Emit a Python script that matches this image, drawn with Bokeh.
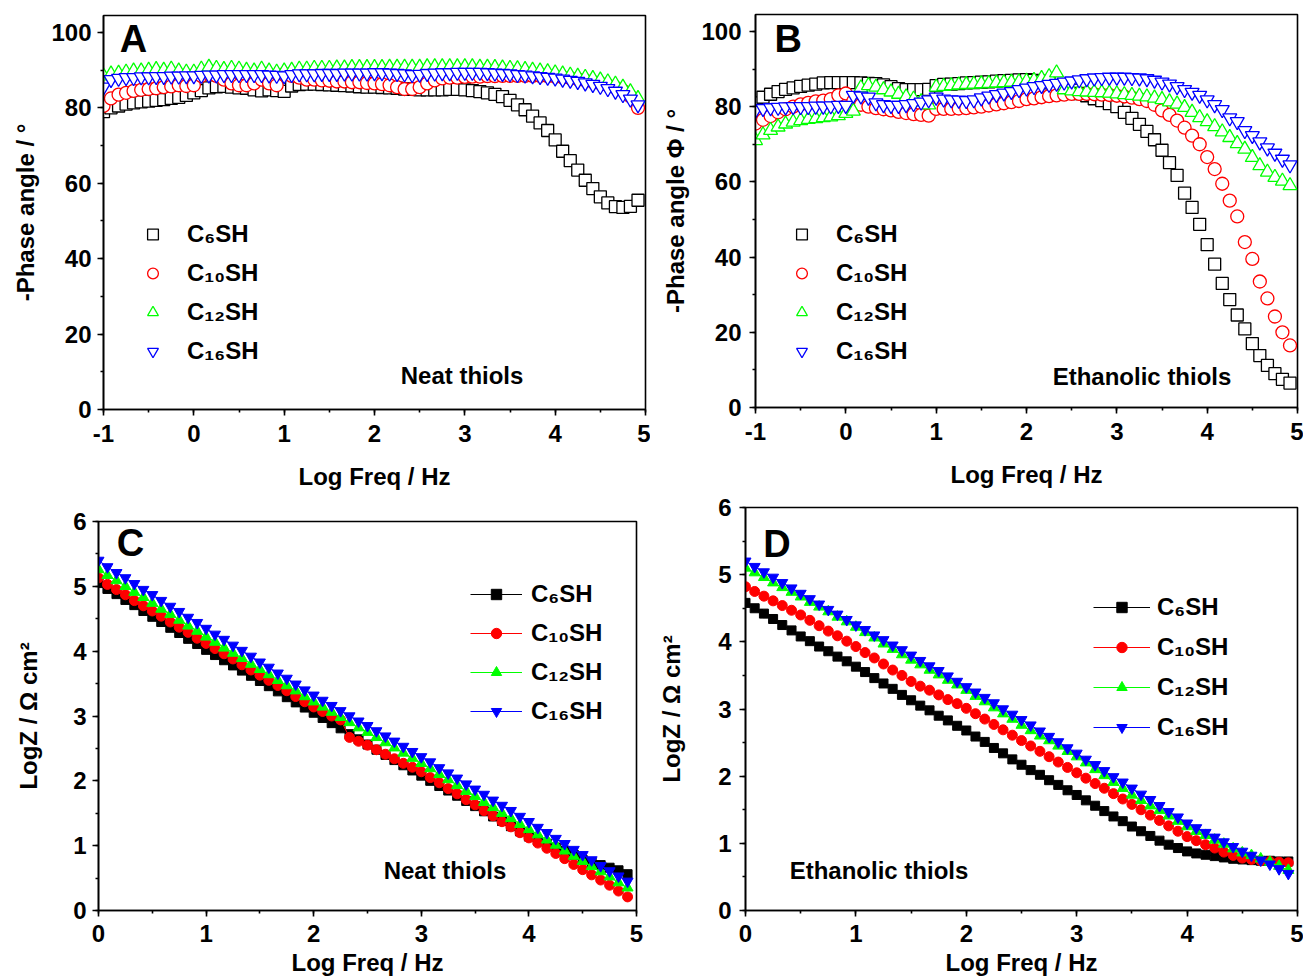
from bokeh.plotting import figure
from bokeh.layouts import column, row
from bokeh.models import Range1d, SingleIntervalTicker, Legend, LegendItem, Label
from bokeh.embed import file_html
from bokeh.resources import INLINE

FONT = "Liberation Sans"

# ---------------- data ----------------
SERIES = ["C\u2086SH", "C\u2081\u2080SH", "C\u2081\u2082SH", "C\u2081\u2086SH"]
COLORS = ["#000000", "#FF0000", "#00FF00", "#0000FF"]

LOGF_PHASE = [
    -1.0, -0.917, -0.833, -0.75, -0.667, -0.583, -0.5, -0.417, -0.333, -0.25, -0.167, -0.083,
    0.0, 0.083, 0.167, 0.25, 0.333, 0.417, 0.5, 0.583, 0.667, 0.75, 0.833, 0.917,
    1.0, 1.083, 1.167, 1.25, 1.333, 1.417, 1.5, 1.583, 1.667, 1.75, 1.833, 1.917,
    2.0, 2.083, 2.167, 2.25, 2.333, 2.417, 2.5, 2.583, 2.667, 2.75, 2.833, 2.917,
    3.0, 3.083, 3.167, 3.25, 3.333, 3.417, 3.5, 3.583, 3.667, 3.75, 3.833, 3.917,
    4.0, 4.083, 4.167, 4.25, 4.333, 4.417, 4.5, 4.583, 4.667, 4.75, 4.833, 4.917,
]
LOGF_MOD = LOGF_PHASE[12:]

# Panel A: neat thiols, -phase angle (deg)
PH_NEAT_C6 = [
    79.0, 80.0, 80.5, 81.0, 81.3, 81.6, 81.8, 82.0, 82.2, 82.5, 82.8, 83.3,
    84.0, 84.6, 85.3, 85.6, 85.7, 85.5, 85.3, 85.2, 84.8, 84.5, 84.8, 84.6,
    84.4, 85.8, 86.2, 86.3, 86.3, 86.2, 86.1, 86.0, 85.9, 85.8, 85.6, 85.5,
    85.5, 85.4, 85.3, 85.2, 85.0, 84.9, 84.8, 84.8, 84.8, 84.8, 84.9, 84.9,
    84.8, 84.6, 84.3, 84.0, 83.6, 83.0, 82.0, 80.8, 79.5, 77.8, 76.0, 74.0,
    71.5, 68.5, 66.0, 63.5, 60.8, 58.6, 56.4, 54.8, 53.8, 53.6, 53.9, 55.5,
]
PH_NEAT_C10 = [
    80.5, 82.5, 83.5, 84.0, 84.5, 84.8, 85.0, 85.2, 85.5, 85.7, 86.0, 85.8,
    86.0, 88.5, 89.0, 88.5, 87.5, 86.5, 86.0, 86.0, 86.5, 87.5, 86.5, 86.0,
    89.0, 88.5, 88.0, 87.5, 87.5, 87.3, 87.2, 87.0, 87.0, 86.8, 86.8, 86.6,
    86.5, 86.3, 86.0, 85.5, 85.0, 85.0, 85.5, 86.5, 87.3, 87.8, 88.0, 88.0,
    88.2, 88.3, 88.3, 88.4, 88.4, 88.5, 88.5, 88.5, 88.5, 88.5, 88.5, 88.4,
    88.3, 88.1, 87.9, 87.6, 87.3, 86.9, 86.5, 86.0, 85.4, 84.6, 83.0, 80.0,
]
PH_NEAT_C12 = [
    88.5, 89.0, 89.2, 89.5, 89.8, 89.8, 90.0, 90.2, 90.0, 90.3, 89.8, 89.5,
    89.5, 90.3, 90.8, 90.5, 90.2, 90.5, 90.3, 90.0, 89.8, 90.3, 89.8, 89.5,
    89.8, 90.0, 90.3, 90.3, 90.5, 90.5, 90.5, 90.6, 90.6, 90.7, 90.7, 90.7,
    90.7, 90.7, 90.8, 90.8, 90.8, 90.8, 90.8, 90.9, 90.9, 90.9, 90.9, 90.9,
    90.9, 90.9, 90.8, 90.8, 90.7, 90.6, 90.5, 90.4, 90.2, 90.0, 89.8, 89.6,
    89.3, 89.0, 88.7, 88.4, 88.1, 87.8, 87.4, 86.9, 86.3, 85.5, 84.3, 82.5,
]
PH_NEAT_C16 = [
    85.5, 87.5, 87.8, 88.0, 88.0, 88.2, 88.2, 88.3, 88.3, 88.4, 88.4, 88.5,
    88.5, 88.6, 88.7, 88.7, 88.8, 88.8, 88.8, 88.8, 88.8, 88.8, 88.7, 88.6,
    88.5, 88.8, 89.0, 89.0, 89.0, 89.1, 89.1, 89.1, 89.2, 89.2, 89.2, 89.2,
    89.3, 89.3, 89.2, 89.1, 89.0, 88.8, 88.9, 89.1, 89.2, 89.3, 89.3, 89.4,
    89.4, 89.4, 89.4, 89.3, 89.2, 89.1, 89.0, 88.8, 88.7, 88.5, 88.3, 88.1,
    87.9, 87.6, 87.3, 87.0, 86.6, 86.2, 85.7, 85.1, 84.4, 83.5, 82.3, 80.8,
]

# Panel B: ethanolic thiols, -phase angle (deg)
PH_ETH_C6 = [
    81.0, 82.5, 83.3, 84.0, 84.6, 85.0, 85.4, 85.7, 86.0, 86.3, 86.4, 86.4,
    86.4, 86.4, 86.3, 86.2, 86.1, 85.8, 85.3, 84.8, 84.5, 84.5, 84.5, 84.6,
    85.6, 85.9, 86.0, 86.1, 86.3, 86.4, 86.5, 86.6, 86.8, 86.9, 87.0, 87.1,
    87.2, 87.0, 86.8, 86.3, 85.6, 85.0, 84.4, 83.5, 82.9, 82.1, 81.6, 80.8,
    80.0, 78.5, 76.9, 75.3, 73.4, 71.2, 68.4, 65.1, 61.7, 57.0, 53.2, 48.7,
    43.3, 38.1, 33.0, 28.7, 24.6, 20.9, 17.0, 13.8, 11.2, 9.0, 7.5, 6.5,
]
PH_ETH_C10 = [
    75.5, 76.5, 77.5, 78.5, 79.3, 80.0, 80.6, 81.0, 81.4, 81.6, 82.0, 83.0,
    83.5, 81.5, 80.5, 80.0, 79.6, 79.3, 79.0, 78.6, 78.3, 78.0, 77.8, 77.6,
    79.4, 79.4, 79.4, 79.5, 79.6, 79.8, 80.0, 80.3, 80.6, 80.9, 81.2, 81.5,
    82.0, 82.2, 82.5, 82.8, 83.0, 83.2, 83.4, 83.4, 83.4, 83.3, 83.2, 83.1,
    82.9, 82.7, 82.4, 82.0, 81.5, 80.5, 79.0, 77.8, 76.3, 74.4, 72.3, 70.0,
    66.6, 63.4, 59.5, 55.0, 50.8, 44.0, 39.5, 33.5, 29.0, 24.2, 20.0, 16.5,
]
PH_ETH_C12 = [
    71.0, 72.5, 73.7, 74.6, 75.4, 75.9, 76.3, 76.6, 76.8, 77.1, 77.3, 77.6,
    78.2, 78.8, 85.0, 85.6, 85.2, 84.5, 83.9, 83.3, 82.6, 82.0, 81.3, 80.5,
    85.2, 85.4, 85.6, 85.8, 85.9, 86.0, 86.1, 86.2, 86.3, 86.4, 86.5, 86.6,
    86.8, 87.0, 87.5, 88.0, 89.0, 84.5, 84.2, 84.0, 83.9, 83.8, 83.7, 83.6,
    83.4, 83.2, 83.0, 82.8, 82.6, 82.3, 81.9, 81.3, 80.7, 79.8, 78.5, 77.1,
    76.0, 74.7, 73.3, 71.8, 70.2, 68.7, 66.5, 64.3, 62.6, 61.2, 60.2, 59.0,
]
PH_ETH_C16 = [
    79.0, 79.5, 79.7, 79.8, 79.9, 80.0, 80.0, 80.0, 80.1, 80.1, 80.2, 80.3,
    80.3, 83.0, 82.8, 82.5, 81.0, 80.5, 80.3, 80.3, 80.5, 80.8, 81.2, 81.8,
    82.5, 82.0, 81.8, 81.7, 81.6, 81.8, 82.3, 82.8, 83.2, 83.6, 84.0, 84.5,
    84.9, 85.3, 85.6, 85.9, 86.2, 86.5, 86.8, 87.1, 87.4, 87.6, 87.7, 87.8,
    87.8, 87.8, 87.7, 87.6, 87.4, 87.0, 86.5, 86.0, 85.3, 84.5, 83.8, 83.0,
    81.8, 80.5, 79.2, 77.0, 76.0, 73.6, 72.3, 70.6, 69.0, 67.6, 66.0, 64.5,
]

# Panel C: neat thiols, log|Z| (ohm cm2)
LZ_NEAT_C6 = [
    5.05, 4.96, 4.88, 4.79, 4.71, 4.62, 4.53, 4.45, 4.36, 4.28, 4.19, 4.11,
    4.02, 3.94, 3.86, 3.78, 3.70, 3.62, 3.54, 3.46, 3.38, 3.29, 3.21, 3.13,
    3.05, 2.97, 2.89, 2.81, 2.72, 2.64, 2.56, 2.48, 2.40, 2.32, 2.24, 2.16,
    2.08, 2.00, 1.92, 1.85, 1.77, 1.69, 1.61, 1.53, 1.45, 1.38, 1.30, 1.22,
    1.14, 1.08, 1.03, 0.97, 0.92, 0.86, 0.78, 0.74, 0.70, 0.66, 0.62, 0.56,
]
LZ_NEAT_C10 = [
    5.13, 5.03, 4.95, 4.87, 4.78, 4.70, 4.62, 4.54, 4.45, 4.37, 4.29, 4.20,
    4.12, 4.04, 3.96, 3.88, 3.79, 3.71, 3.63, 3.55, 3.47, 3.39, 3.30, 3.22,
    3.14, 3.07, 3.00, 2.94, 2.67, 2.61, 2.55, 2.48, 2.41, 2.34, 2.27, 2.21,
    2.14, 2.05, 1.97, 1.88, 1.80, 1.71, 1.63, 1.54, 1.46, 1.37, 1.29, 1.20,
    1.12, 1.04, 0.96, 0.88, 0.80, 0.71, 0.63, 0.55, 0.47, 0.39, 0.30, 0.21,
]
LZ_NEAT_C12 = [
    5.26, 5.17, 5.09, 5.00, 4.91, 4.83, 4.74, 4.65, 4.57, 4.48, 4.39, 4.31,
    4.22, 4.14, 4.05, 3.97, 3.89, 3.80, 3.72, 3.64, 3.55, 3.47, 3.39, 3.30,
    3.22, 3.14, 3.06, 2.98, 2.90, 2.82, 2.75, 2.67, 2.59, 2.51, 2.43, 2.35,
    2.27, 2.19, 2.10, 2.02, 1.93, 1.84, 1.76, 1.67, 1.59, 1.50, 1.42, 1.33,
    1.25, 1.17, 1.09, 1.01, 0.92, 0.84, 0.76, 0.68, 0.60, 0.52, 0.43, 0.35,
]
LZ_NEAT_C16 = [
    5.40, 5.30, 5.21, 5.13, 5.04, 4.95, 4.87, 4.78, 4.69, 4.61, 4.52, 4.44,
    4.35, 4.26, 4.18, 4.09, 4.01, 3.92, 3.83, 3.75, 3.66, 3.58, 3.49, 3.40,
    3.32, 3.24, 3.16, 3.08, 3.00, 2.92, 2.85, 2.77, 2.69, 2.61, 2.53, 2.45,
    2.37, 2.29, 2.20, 2.12, 2.04, 1.95, 1.87, 1.79, 1.70, 1.62, 1.54, 1.45,
    1.37, 1.28, 1.20, 1.11, 1.03, 0.94, 0.86, 0.78, 0.69, 0.61, 0.53, 0.45,
]

# Panel D: ethanolic thiols, log|Z| (ohm cm2)
LZ_ETH_C6 = [
    4.58, 4.50, 4.42, 4.34, 4.25, 4.17, 4.08, 4.01, 3.93, 3.86, 3.78, 3.71,
    3.63, 3.55, 3.46, 3.38, 3.30, 3.21, 3.13, 3.05, 2.98, 2.90, 2.83, 2.75,
    2.68, 2.59, 2.51, 2.42, 2.34, 2.25, 2.17, 2.09, 2.02, 1.94, 1.87, 1.79,
    1.72, 1.64, 1.56, 1.48, 1.40, 1.33, 1.25, 1.18, 1.11, 1.04, 0.98, 0.93,
    0.88, 0.85, 0.83, 0.81, 0.79, 0.77, 0.76, 0.75, 0.74, 0.74, 0.73, 0.73,
]
LZ_ETH_C10 = [
    4.82, 4.75, 4.68, 4.61, 4.54, 4.47, 4.40, 4.32, 4.24, 4.16, 4.09, 4.01,
    3.93, 3.84, 3.76, 3.67, 3.58, 3.50, 3.41, 3.34, 3.28, 3.21, 3.14, 3.08,
    3.01, 2.93, 2.85, 2.77, 2.69, 2.61, 2.53, 2.45, 2.37, 2.29, 2.21, 2.13,
    2.05, 1.97, 1.89, 1.82, 1.74, 1.66, 1.58, 1.50, 1.42, 1.34, 1.26, 1.18,
    1.10, 1.04, 0.98, 0.93, 0.87, 0.82, 0.78, 0.76, 0.74, 0.73, 0.72, 0.71,
]
LZ_ETH_C12 = [
    5.10, 5.03, 4.96, 4.88, 4.81, 4.74, 4.67, 4.59, 4.52, 4.45, 4.37, 4.30,
    4.22, 4.14, 4.06, 3.97, 3.89, 3.81, 3.73, 3.66, 3.58, 3.51, 3.43, 3.36,
    3.28, 3.19, 3.11, 3.02, 2.93, 2.85, 2.76, 2.68, 2.60, 2.53, 2.45, 2.37,
    2.29, 2.20, 2.10, 2.01, 1.91, 1.82, 1.72, 1.64, 1.56, 1.49, 1.41, 1.33,
    1.25, 1.18, 1.12, 1.05, 0.99, 0.92, 0.86, 0.82, 0.77, 0.72, 0.66, 0.60,
]
LZ_ETH_C16 = [
    5.20, 5.12, 5.04, 4.96, 4.88, 4.80, 4.72, 4.64, 4.56, 4.48, 4.41, 4.33,
    4.25, 4.18, 4.10, 4.03, 3.95, 3.88, 3.80, 3.72, 3.64, 3.57, 3.49, 3.41,
    3.33, 3.25, 3.17, 3.09, 3.00, 2.92, 2.84, 2.76, 2.67, 2.59, 2.51, 2.42,
    2.34, 2.25, 2.17, 2.08, 1.99, 1.91, 1.82, 1.73, 1.65, 1.56, 1.47, 1.39,
    1.30, 1.23, 1.16, 1.09, 1.02, 0.95, 0.88, 0.82, 0.75, 0.69, 0.62, 0.55,
]

X_TICK_LABELS = {-1: "-1", 0: "0", 1: "1", 2: "2", 3: "3", 4: "4", 5: "5"}


# ---------------- helpers ----------------
def make_fig(w, h, bl, br, bt, bb, xr, yr):
    p = figure(width=w, height=h, x_range=Range1d(*xr), y_range=Range1d(*yr),
               output_backend="svg", toolbar_location=None,
               min_border_left=bl, min_border_right=br,
               min_border_top=bt, min_border_bottom=bb)
    p.frame_align = False
    p.xgrid.visible = False
    p.ygrid.visible = False
    p.outline_line_color = "black"
    p.outline_line_width = 1.6
    p.outline_line_alpha = 1.0
    p.background_fill_color = "white"
    p.border_fill_color = "white"
    return p


def style_axis(ax, label, interval, tick_std, lab_std, overrides=None):
    ax.ticker = SingleIntervalTicker(interval=interval, num_minor_ticks=2)
    ax.axis_label = label
    ax.axis_label_text_font = FONT
    ax.axis_label_text_font_size = "24px"
    ax.axis_label_text_font_style = "bold"
    ax.axis_label_text_color = "black"
    ax.axis_label_standoff = lab_std
    ax.major_label_text_font = FONT
    ax.major_label_text_font_size = "24px"
    ax.major_label_text_font_style = "bold"
    ax.major_label_text_color = "black"
    ax.major_label_standoff = tick_std
    ax.axis_line_width = 1.6
    ax.axis_line_color = "black"
    ax.major_tick_line_width = 1.6
    ax.minor_tick_line_width = 1.6
    ax.major_tick_line_color = "black"
    ax.minor_tick_line_color = "black"
    ax.major_tick_out = 6
    ax.major_tick_in = 0
    ax.minor_tick_out = 3
    ax.minor_tick_in = 0
    if overrides:
        ax.major_label_overrides = overrides


def add_text(p, x, y, text, size="24px"):
    p.add_layout(Label(x=x, y=y, text=text, text_font=FONT, text_font_size=size,
                       text_font_style="bold", text_color="black",
                       text_align="left", text_baseline="middle"))


def add_legend(p, items, loc, gw, gh, standoff, spacing):
    leg = Legend(items=items, location=loc, orientation="vertical",
                 glyph_width=gw, glyph_height=gh, label_height=gh,
                 label_standoff=standoff, spacing=spacing, padding=0, margin=0,
                 background_fill_alpha=0.0, border_line_alpha=0.0,
                 label_text_font=FONT, label_text_font_size="24px",
                 label_text_font_style="bold", label_text_color="black")
    p.add_layout(leg)


PHASE_MARKERS = ["square", "circle", "triangle", "inverted_triangle"]
PHASE_SIZES = [12, 13, 14, 14]
MOD_MARKERS = ["square", "circle", "triangle", "inverted_triangle"]
MOD_SIZES = [9, 10, 11, 11]


def phase_panel(w, h, bl, br, bt, bb, ylabel, series, letter, letter_xy, note, note_xy,
                ylab_std, ytick_std, leg_loc, leg_standoff):
    p = make_fig(w, h, bl, br, bt, bb, (-1, 5), (0, 104.5))
    style_axis(p.xaxis[0], "Log Freq / Hz", 1, 9, 18, X_TICK_LABELS)
    style_axis(p.yaxis[0], ylabel, 20, ytick_std, ylab_std)
    items = []
    for name, vals, col, mk, sz in zip(SERIES, series, COLORS, PHASE_MARKERS, PHASE_SIZES):
        r = p.scatter(LOGF_PHASE, vals, marker=mk, size=sz, line_color=col,
                      line_width=1.3, fill_color="white")
        items.append(LegendItem(label=name, renderers=[r]))
    add_legend(p, items, leg_loc, 27, 30, leg_standoff, 9)
    add_text(p, letter_xy[0], letter_xy[1], letter, "38px")
    add_text(p, note_xy[0], note_xy[1], note)
    return p


def mod_panel(w, h, bl, br, bt, bb, series, letter, letter_xy, note, note_xy,
              ylab_std, ytick_std, leg_loc, leg_gw, leg_standoff, leg_spacing):
    p = make_fig(w, h, bl, br, bt, bb, (0, 5), (0, 6))
    style_axis(p.xaxis[0], "Log Freq / Hz", 1, 8, 4, X_TICK_LABELS)
    style_axis(p.yaxis[0], "LogZ / \u03a9 cm\u00b2", 1, ytick_std, ylab_std)
    items = []
    for name, vals, col, mk, sz in zip(SERIES, series, COLORS, MOD_MARKERS, MOD_SIZES):
        ln = p.line(LOGF_MOD, vals, line_color=col, line_width=1)
        sc = p.scatter(LOGF_MOD, vals, marker=mk, size=sz, line_color=col,
                       fill_color=col, line_width=1)
        items.append(LegendItem(label=name, renderers=[ln, sc]))
    add_legend(p, items, leg_loc, leg_gw, 26, leg_standoff, leg_spacing)
    add_text(p, letter_xy[0], letter_xy[1], letter, "38px")
    add_text(p, note_xy[0], note_xy[1], note)
    return p


pA = phase_panel(650, 493, 103, 5, 15, 84, "-Phase angle / \u00b0",
                 [PH_NEAT_C6, PH_NEAT_C10, PH_NEAT_C12, PH_NEAT_C16],
                 "A", (-0.82, 98.3), "Neat thiols", (2.29, 8.9),
                 9, 6, (36, 43), 21)
pB = phase_panel(653, 493, 105, 6, 14, 86, "-Phase angle \u03a6 / \u00b0",
                 [PH_ETH_C6, PH_ETH_C10, PH_ETH_C12, PH_ETH_C16],
                 "B", (-0.79, 98.0), "Ethanolic thiols", (2.29, 8.2),
                 9, 8, (33, 41), 21)
pC = mod_panel(646, 485, 98, 10, 28, 67,
               [LZ_NEAT_C6, LZ_NEAT_C10, LZ_NEAT_C12, LZ_NEAT_C16],
               "C", (0.17, 5.67), "Neat thiols", (2.65, 0.61),
               28, 6, (372, 185), 52, 9, 11)
pD = mod_panel(657, 485, 99, 6, 14, 67,
               [LZ_ETH_C6, LZ_ETH_C10, LZ_ETH_C12, LZ_ETH_C16],
               "D", (0.16, 5.45), "Ethanolic thiols", (0.4, 0.60),
               30, 8, (348, 169), 57, 7, 12)

layout = column(row(pA, pB), row(pC, pD))

with open("out.html", "w") as f:
    f.write(file_html(layout, INLINE, title="EIS phase and modulus"))
